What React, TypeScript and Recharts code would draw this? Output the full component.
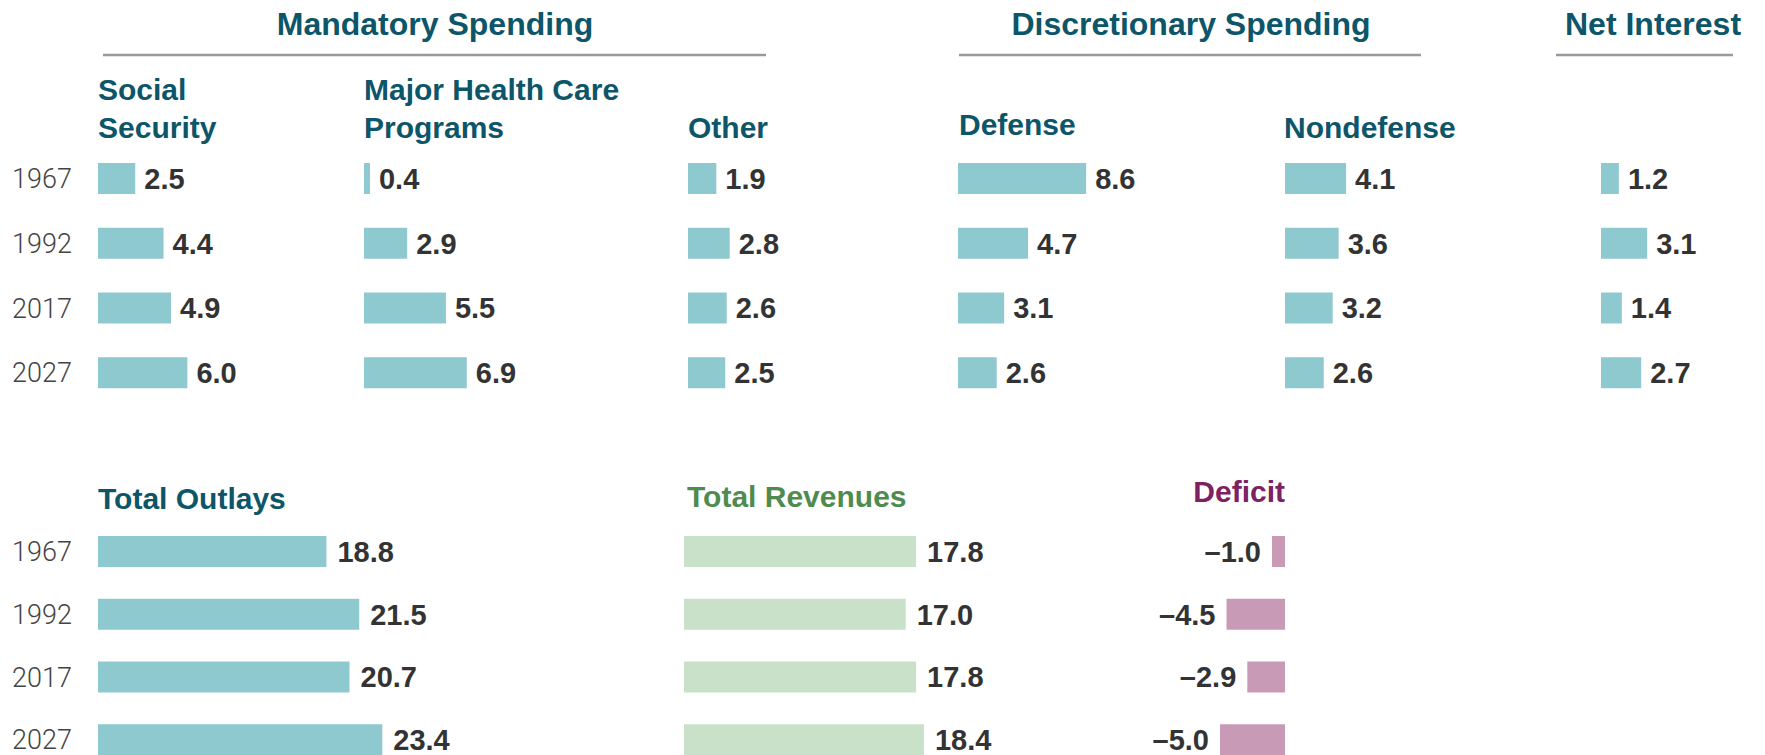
import { Bar, BarChart, LabelList, XAxis, YAxis } from "recharts";

// shares of GDP, percent
const YEARS = ["1967", "1992", "2017", "2027"];
const SOCIAL_SECURITY = [2.5, 4.4, 4.9, 6.0];
const HEALTH_CARE = [0.4, 2.9, 5.5, 6.9];
const OTHER_MANDATORY = [1.9, 2.8, 2.6, 2.5];
const DEFENSE = [8.6, 4.7, 3.1, 2.6];
const NONDEFENSE = [4.1, 3.6, 3.2, 2.6];
const NET_INTEREST = [1.2, 3.1, 1.4, 2.7];
const OUTLAYS = [18.8, 21.5, 20.7, 23.4];
const REVENUES = [17.8, 17.0, 17.8, 18.4];
const DEFICIT = [-1.0, -4.5, -2.9, -5.0];

const TEAL = "#8fc9d0";
const GREEN = "#c8e1c8";
const PINK = "#c99ab6";
const INK = "#0d5568";
const FONT = "'Liberation Sans', Arial, sans-serif";

const rows = (values: number[]) => YEARS.map((year, i) => ({ year, value: values[i] }));
const fmt = (v: any) => (v < 0 ? `\u2013${Math.abs(v).toFixed(1)}` : Number(v).toFixed(1));

function YearTick({ y, payload }: any) {
  return (
    <text x={12} y={y} dy="0.36em" fontFamily="Roboto, sans-serif" fontWeight={300} fontSize={27} fill="#444">
      {payload.value}
    </text>
  );
}

type PanelProps = {
  values: number[];
  left: number;
  top: number;
  width: number;
  height: number;
  ppu: number;
  fill: string;
  gap: number;
  axisWidth?: number;
  negative?: boolean;
};

function Panel({ values, left, top, width, height, ppu, fill, gap, axisWidth = 0, negative }: PanelProps) {
  const span = width / ppu;
  return (
    <div style={{ position: "absolute", left: left - axisWidth, top }}>
      <BarChart
        layout="vertical"
        width={width + axisWidth}
        height={height}
        data={rows(values)}
        margin={{ top: 0, right: 0, bottom: 0, left: 0 }}
      >
        <XAxis type="number" hide domain={negative ? [-span, 0] : [0, span]} />
        {axisWidth ? (
          <YAxis
            type="category"
            dataKey="year"
            width={axisWidth}
            axisLine={false}
            tickLine={false}
            tick={(p: any) => <YearTick {...p} />}
          />
        ) : (
          <YAxis type="category" dataKey="year" hide />
        )}
        <Bar dataKey="value" fill={fill} barSize={31} isAnimationActive={false}>
          <LabelList
            dataKey="value"
            position="right"
            offset={gap}
            formatter={fmt}
            fontFamily={FONT}
            fontWeight={700}
            fontSize={29}
            fill="#333"
          />
        </Bar>
      </BarChart>
    </div>
  );
}

function Headings() {
  const head = { fontFamily: FONT, fontWeight: 700, fill: INK } as const;
  return (
    <svg width={1765} height={755} style={{ position: "absolute", left: 0, top: 0 }}>
      <text x={435} y={35} textAnchor="middle" fontSize={32} {...head}>Mandatory Spending</text>
      <line x1={103} x2={766} y1={55} y2={55} stroke="#999" strokeWidth={2.5} />
      <text x={1191} y={35} textAnchor="middle" fontSize={32} {...head}>Discretionary Spending</text>
      <line x1={959} x2={1421} y1={55} y2={55} stroke="#999" strokeWidth={2.5} />
      <text x={1565} y={35} fontSize={32} {...head}>Net Interest</text>
      <line x1={1556} x2={1733} y1={55} y2={55} stroke="#999" strokeWidth={2.5} />

      <text x={98} y={100} fontSize={30} {...head}>Social</text>
      <text x={98} y={138} fontSize={30} {...head}>Security</text>
      <text x={364} y={100} fontSize={30} {...head}>Major Health Care</text>
      <text x={364} y={138} fontSize={30} {...head}>Programs</text>
      <text x={688} y={138} fontSize={30} {...head}>Other</text>
      <text x={959} y={135} fontSize={30} {...head}>Defense</text>
      <text x={1284} y={138} fontSize={30} {...head}>Nondefense</text>

      <text x={98} y={509} fontSize={30} {...head}>Total Outlays</text>
      <text x={687} y={507} fontSize={30} {...head} fill="#4f8b4f">Total Revenues</text>
      <text x={1285} y={502} textAnchor="end" fontSize={30} {...head} fill="#7d2163">Deficit</text>
    </svg>
  );
}

export default function App() {
  const top = { top: 146, height: 259, ppu: 14.9, fill: TEAL, gap: 9 };
  const bottom = { top: 520, height: 251, gap: 11 };
  return (
    <div style={{ position: "absolute", left: 0, top: 0, width: 1765, height: 755, overflow: "hidden", background: "#fff" }}>
      <Headings />
      <Panel values={SOCIAL_SECURITY} left={98} width={260} axisWidth={98} {...top} />
      <Panel values={HEALTH_CARE} left={364} width={300} {...top} />
      <Panel values={OTHER_MANDATORY} left={688} width={260} {...top} />
      <Panel values={DEFENSE} left={958} width={300} {...top} />
      <Panel values={NONDEFENSE} left={1285} width={300} {...top} />
      <Panel values={NET_INTEREST} left={1601} width={160} {...top} />

      <Panel values={OUTLAYS} left={98} width={500} axisWidth={98} ppu={12.15} fill={TEAL} {...bottom} />
      <Panel values={REVENUES} left={684} width={360} ppu={13.04} fill={GREEN} {...bottom} />
      <Panel values={DEFICIT} left={1285 - 300} width={300} ppu={13} fill={PINK} negative {...bottom} />
    </div>
  );
}
